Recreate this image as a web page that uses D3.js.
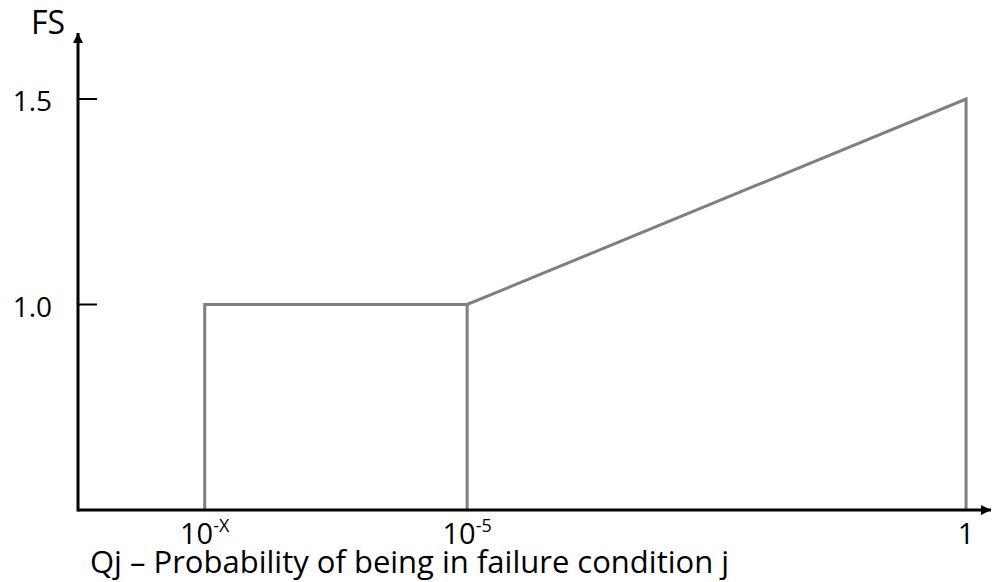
<!DOCTYPE html>
<html>
<head>
<meta charset="utf-8">
<script src="https://cdn.jsdelivr.net/npm/d3@7"></script>
<style>
  html, body { margin: 0; padding: 0; background: #fff; }
  svg { display: block; }
  text { font-family: "Open Sans", "Noto Sans", sans-serif; fill: #000; }
</style>
</head>
<body>
<script>
// ---- data ----
const xExponents = [-7.63, -5, 0];          // log10(Qj) positions: 10^-X, 10^-5, 1
const fsValues = [1.0, 1.0, 1.5];            // FS at each breakpoint
const xTickBase = ["10", "10", "1"];
const xTickExp = ["-X", "-5", ""];
const yTicks = [1.0, 1.5];
const yTickLabels = ["1.0", "1.5"];
const yAxisLabel = "FS";
const xAxisLabel = "Qj \u2013 Probability of being in failure condition j";

const W = 993, H = 582;
const svg = d3.select("body").append("svg").attr("width", W).attr("height", H);

const x = d3.scaleLinear().domain([-8.9, 0.26]).range([78, 992]);
const y = d3.scaleLinear().domain([0.5, 1.5]).range([510, 99]);
const yBase = y.domain()[0];

// arrow markers
const defs = svg.append("defs");
defs.append("marker").attr("id", "arrow").attr("viewBox", "0 0 10 10")
  .attr("refX", 10).attr("refY", 5).attr("markerWidth", 10).attr("markerHeight", 10)
  .attr("markerUnits", "userSpaceOnUse").attr("orient", "auto")
  .append("path").attr("d", "M0,0 L10,5 L0,10 Z").attr("fill", "#000");

// series lines (gray)
const lineGen = d3.line().x(d => x(d[0])).y(d => y(d[1]));
const pts = xExponents.map((e, i) => [e, fsValues[i]]);
const mainPath = [[pts[0][0], yBase]].concat(pts).concat([[pts[2][0], yBase]]);
svg.append("path").attr("d", lineGen(mainPath))
  .attr("fill", "none").attr("stroke", "#7f7f7f").attr("stroke-width", 3)
  .attr("stroke-linejoin", "miter");
svg.append("path").attr("d", lineGen([[pts[1][0], yBase], pts[1]]))
  .attr("fill", "none").attr("stroke", "#7f7f7f").attr("stroke-width", 3);

// axes
svg.append("line").attr("x1", x.range()[0]).attr("x2", x.range()[1] - 1)
  .attr("y1", y(yBase)).attr("y2", y(yBase))
  .attr("stroke", "#000").attr("stroke-width", 3).attr("marker-end", "url(#arrow)");
svg.append("line").attr("x1", x.range()[0]).attr("x2", x.range()[0])
  .attr("y1", y(yBase) + 1.5).attr("y2", 33)
  .attr("stroke", "#000").attr("stroke-width", 3).attr("marker-end", "url(#arrow)");

// y ticks
const yg = svg.append("g");
yTicks.forEach((t, i) => {
  yg.append("line").attr("x1", x.range()[0]).attr("x2", 97)
    .attr("y1", y(t)).attr("y2", y(t)).attr("stroke", "#000").attr("stroke-width", 2);
  yg.append("text").attr("x", 52).attr("y", y(t) + 12)
    .attr("text-anchor", "end").attr("font-size", 28).text(yTickLabels[i]);
});

// x tick labels
xExponents.forEach((e, i) => {
  const t = svg.append("text").attr("x", x(e)).attr("y", 544)
    .attr("text-anchor", "middle").attr("font-size", 29);
  t.append("tspan").text(xTickBase[i]);
  if (xTickExp[i]) {
    t.append("tspan").attr("font-size", 18).attr("dy", -12).text(xTickExp[i]);
  }
});

// axis titles
svg.append("text").attr("x", 31).attr("y", 34).attr("font-size", 32).text(yAxisLabel);
svg.append("text").attr("x", 90).attr("y", 573).attr("font-size", 31).text(xAxisLabel);
</script>
</body>
</html>
